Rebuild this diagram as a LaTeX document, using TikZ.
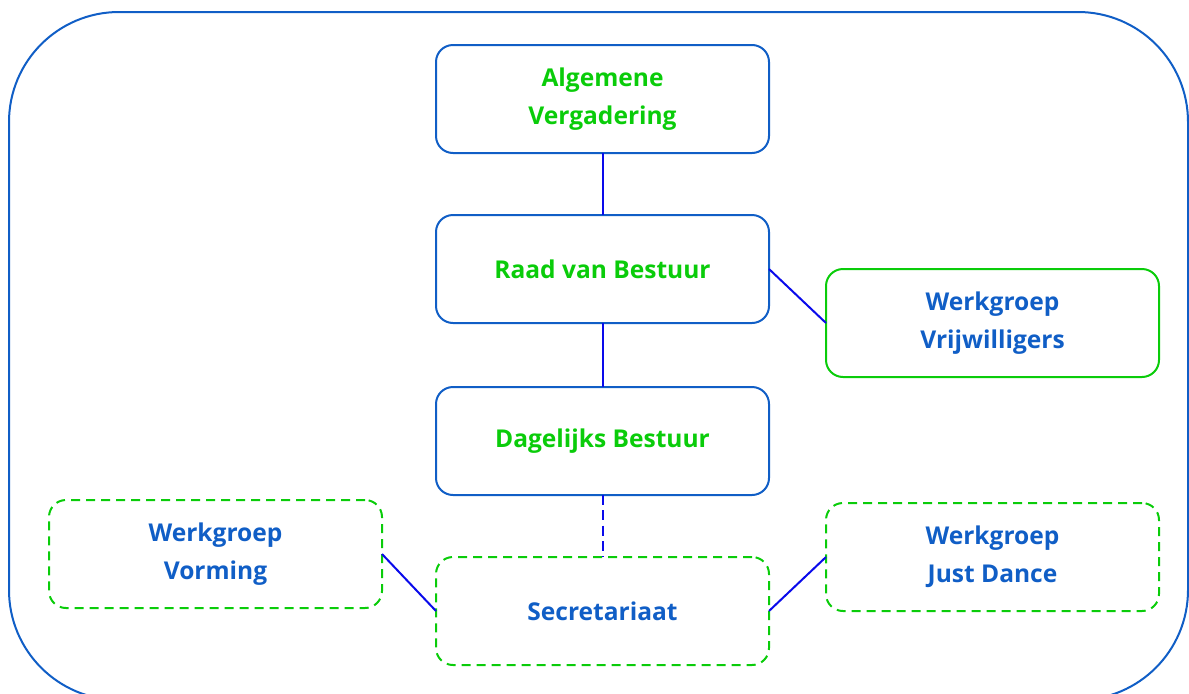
\documentclass[tikz,border=0pt]{standalone}
\usepackage{fontspec}
\setmainfont{Open Sans}
\usepackage{xcolor}
\usetikzlibrary{positioning}
\definecolor{orgblue}{RGB}{16,94,198}
\definecolor{orggreen}{RGB}{10,204,10}
\definecolor{linkblue}{RGB}{10,10,235}
\tikzset{
  orgbox/.style={draw=orgblue, line width=1.5pt, rounded corners=12.75pt,
    outer sep=0pt,
    minimum width=249.75pt, minimum height=81pt, align=center,
    font=\fontsize{18.4}{28.5}\selectfont\bfseries},
  wgbox/.style={orgbox, draw=orggreen, text=orgblue},
  wgdashed/.style={wgbox, dash pattern=on 6.75pt off 4.5pt},
  link/.style={draw=linkblue, line width=1.5pt}
}

\begin{document}
\begin{tikzpicture}[x=0.75pt,y=-0.75pt]
            \useasboundingbox (0,0) rectangle (1189,693);
            \draw[orgblue, line width=1.5pt, rounded corners=82.5pt]
              (9,12) rectangle (1188,700);

            \node [orgbox,
              text=orggreen
            ] (av) at (602.5,99) {Algemene\\Vergadering};

            \node [orgbox,
              text=orggreen,
              below=46.5pt of av
            ] (rvb) {Raad van Bestuur};

            \node [orgbox,
              text=orggreen,
              below=48pt of rvb
            ] (db) {Dagelijks Bestuur};

            \node [wgdashed,
              below=46.5pt of db
            ] (sec) {Secretariaat};

            \node [wgbox,
              below right=-40.5pt and 42.75pt of rvb
            ] (vrijw) {Werkgroep\\Vrijwilligers};

            \node [wgdashed,
              above left=-38.25pt and 40.5pt of sec
            ] (vorming) {Werkgroep\\Vorming};

            \node [wgdashed,
              above right=-40.5pt and 42.75pt of sec
            ] (justdance) {Werkgroep\\Just Dance};

            \draw[link] (av.south) -- (rvb.north);
            \draw[link] (rvb.south) -- (db.north);
            \draw[link, dash pattern=on 7.5pt off 4pt] (db.south) -- (sec.north);
            \draw[link] (rvb.east) -- (vrijw.west);
            \draw[link] (vorming.east) -- (sec.west);
            \draw[link] (sec.east) -- (justdance.west);
          \end{tikzpicture}
\end{document}
